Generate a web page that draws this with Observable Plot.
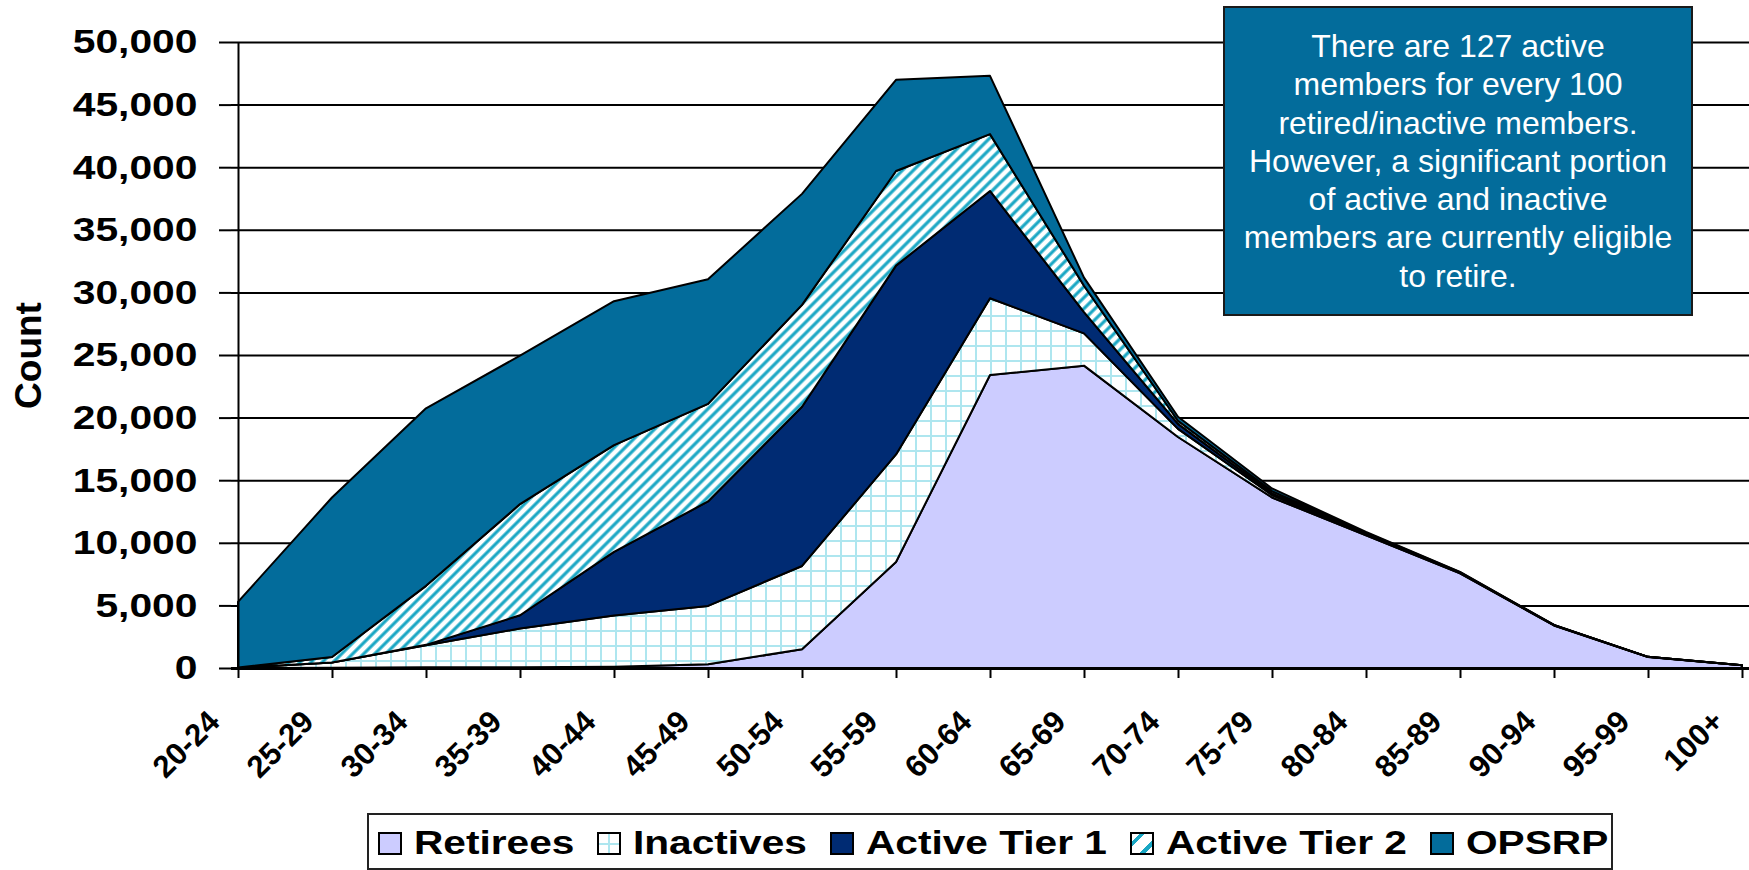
<!DOCTYPE html>
<html>
<head>
<meta charset="utf-8">
<script src="https://cdn.jsdelivr.net/npm/d3@7"></script>
<script src="https://cdn.jsdelivr.net/npm/@observablehq/plot@0.6"></script>
<style>
  body { margin: 0; background: #fff; }
  #wrap { position: relative; width: 1749px; height: 870px; overflow: hidden; font-family: "Liberation Sans", Arial, sans-serif; background: #fff; }
  #wrap svg { position: absolute; left: 0; top: 0; }
  #note { position: absolute; left: 1223px; top: 6px; width: 470px; height: 310px; box-sizing: border-box;
          background: #036C9B; border: 2px solid #1a1a1a; color: #fff; font-size: 32px; line-height: 38.3px;
          text-align: center; padding-top: 19px; }
  #legend { position: absolute; left: 367px; top: 813px; width: 1246px; height: 57px; box-sizing: border-box;
            border: 2px solid #222; display: flex; align-items: center; padding-left: 9px; padding-top: 4px; background: #fff; }
  .sw { width: 24px; height: 23px; box-sizing: border-box; border: 2px solid #000; flex: none; }
  .lab { display: inline-block; font-size: 32.5px; font-weight: bold; margin-left: 12px; white-space: nowrap;
         transform: scaleX(1.25); transform-origin: 0 50%; flex: none; }
</style>
</head>
<body>
<div id="wrap"></div>
<script>
const ages = ["20-24","25-29","30-34","35-39","40-44","45-49","50-54","55-59","60-64","65-69","70-74","75-79","80-84","85-89","90-94","95-99","100+"];
const retirees    = [0, 20, 50, 50, 100, 300, 1500, 8470, 23400, 24150, 18450, 13620, 10600, 7560, 3400, 880, 220];
const inactives   = [20, 410, 1770, 3100, 4090, 4660, 6650, 8590, 6130, 2580, 650, 200, 80, 40, 20, 10, 0];
const activeTier1 = [0, 10, 30, 1060, 5090, 8340, 12720, 15080, 8570, 1700, 400, 120, 50, 20, 5, 0, 0];
const activeTier2 = [20, 440, 4710, 8880, 8520, 7800, 8130, 7560, 4540, 2100, 250, 190, 70, 30, 10, 0, 0];
const opsrp       = [5240, 12740, 14180, 11860, 11500, 9950, 8870, 7280, 4660, 650, 320, 210, 70, 30, 10, 0, 0];
const seriesNames = ["Retirees", "Inactives", "Active Tier 1", "Active Tier 2", "OPSRP"];
const yTicks = [0, 5000, 10000, 15000, 20000, 25000, 30000, 35000, 40000, 45000, 50000];
const noteLines = ["There are 127 active", "members for every 100", "retired/inactive members.",
  "However, a significant portion", "of active and inactive", "members are currently eligible", "to retire."];

const seriesValues = [retirees, inactives, activeTier1, activeTier2, opsrp];
const table = seriesNames.flatMap((s, j) => ages.map((a, i) => ({age: a, series: s, count: seriesValues[j][i]})));

const fills = ["#CCCCFF", "url(#pInact)", "#002B73", "url(#pTier2)", "#036C9B"];

const chart = Plot.plot({
  width: 1749,
  height: 800,
  marginLeft: 231,
  marginRight: 0,
  marginTop: 42,
  marginBottom: 132,
  style: {fontFamily: '"Liberation Sans", Arial, sans-serif', color: "#000", background: "transparent", overflow: "visible"},
  x: {type: "point", domain: ages, padding: 0, label: null},
  y: {domain: [0, 50000], label: null},
  color: {domain: seriesNames, range: fills},
  marks: [
    Plot.gridY(yTicks, {stroke: "#000", strokeOpacity: 1, strokeWidth: 2}),
    Plot.areaY(table, {x: "age", y: "count", fill: "series", stroke: "#000", strokeWidth: 2}),
    Plot.ruleX([ages[0]], {stroke: "#000", strokeWidth: 2}),
    Plot.ruleY([0], {stroke: "#000", strokeWidth: 3}),
    Plot.axisY(yTicks, {label: null, tickSize: 12, tickPadding: 22, fontSize: 34, fontWeight: "bold", tickFormat: d3.format(","), strokeWidth: 2}),
    Plot.axisX(ages, {label: null, tickSize: 10, tickFormat: () => "", strokeWidth: 2}),
    Plot.text(ages, {x: d => d, y: () => 0, dx: -24, dy: 48, rotate: -45, textAnchor: "end", fontSize: 31, fontWeight: "bold"}),
    Plot.text(["Count"], {frameAnchor: "left", textAnchor: "middle", dx: -202, rotate: -90, fontSize: 37, fontWeight: "bold"})
  ]
});

// patterns
const defs = d3.select(chart).insert("defs", ":first-child");
const p1 = defs.append("pattern").attr("id", "pInact").attr("patternUnits", "userSpaceOnUse").attr("width", 15).attr("height", 15);
p1.append("rect").attr("width", 15).attr("height", 15).attr("fill", "#fff");
p1.append("path").attr("d", "M0,1H15M1,0V15").attr("stroke", "#AEE6EF").attr("stroke-width", 2).attr("fill", "none");
const p2 = defs.append("pattern").attr("id", "pTier2").attr("patternUnits", "userSpaceOnUse")
  .attr("width", 7.8).attr("height", 20).attr("patternTransform", "rotate(45)");
p2.append("rect").attr("width", 7.8).attr("height", 20).attr("fill", "#fff");
p2.append("rect").attr("x", 0.6).attr("width", 2.6).attr("height", 20).attr("fill", "#1AA7C4");
p2.append("rect").attr("x", 0).attr("width", 3.8).attr("height", 20).attr("fill", "#1AA7C4").attr("opacity", 0.45);

// widen y tick labels along their baseline
chart.querySelectorAll('g[aria-label="y-axis tick label"] text').forEach(t => {
  const tr = t.getAttribute("transform");
  if (tr) t.setAttribute("transform", tr + " scale(1.2,1)");
});

const wrap = document.getElementById("wrap");
wrap.appendChild(chart);

// annotation box
const note = document.createElement("div");
note.id = "note";
note.innerHTML = noteLines.map(s => `<div>${s}</div>`).join("");
wrap.appendChild(note);

// legend
const swatchCss = [
  "background:#CCCCFF",
  "background:linear-gradient(#AEE6EF,#AEE6EF) center/2px 100% no-repeat, linear-gradient(#AEE6EF,#AEE6EF) center/100% 2px no-repeat, #fff",
  "background:#002B73",
  "background:repeating-linear-gradient(135deg, #fff 0 5px, #1AA7C4 5px 9px, #fff 9px 14px)",
  "background:#036C9B"
];
const legend = document.createElement("div");
legend.id = "legend";
wrap.appendChild(legend);
const labs = [];
seriesNames.forEach((s, i) => {
  const sw = document.createElement("div");
  sw.className = "sw";
  sw.setAttribute("style", swatchCss[i]);
  legend.appendChild(sw);
  const lab = document.createElement("span");
  lab.className = "lab";
  lab.textContent = s;
  legend.appendChild(lab);
  labs.push(lab);
});
labs.forEach((lab, i) => {
  const w = lab.offsetWidth;
  lab.style.marginRight = (w * 0.25 + (i < labs.length - 1 ? 23 : 0)) + "px";
});
</script>
</body>
</html>
